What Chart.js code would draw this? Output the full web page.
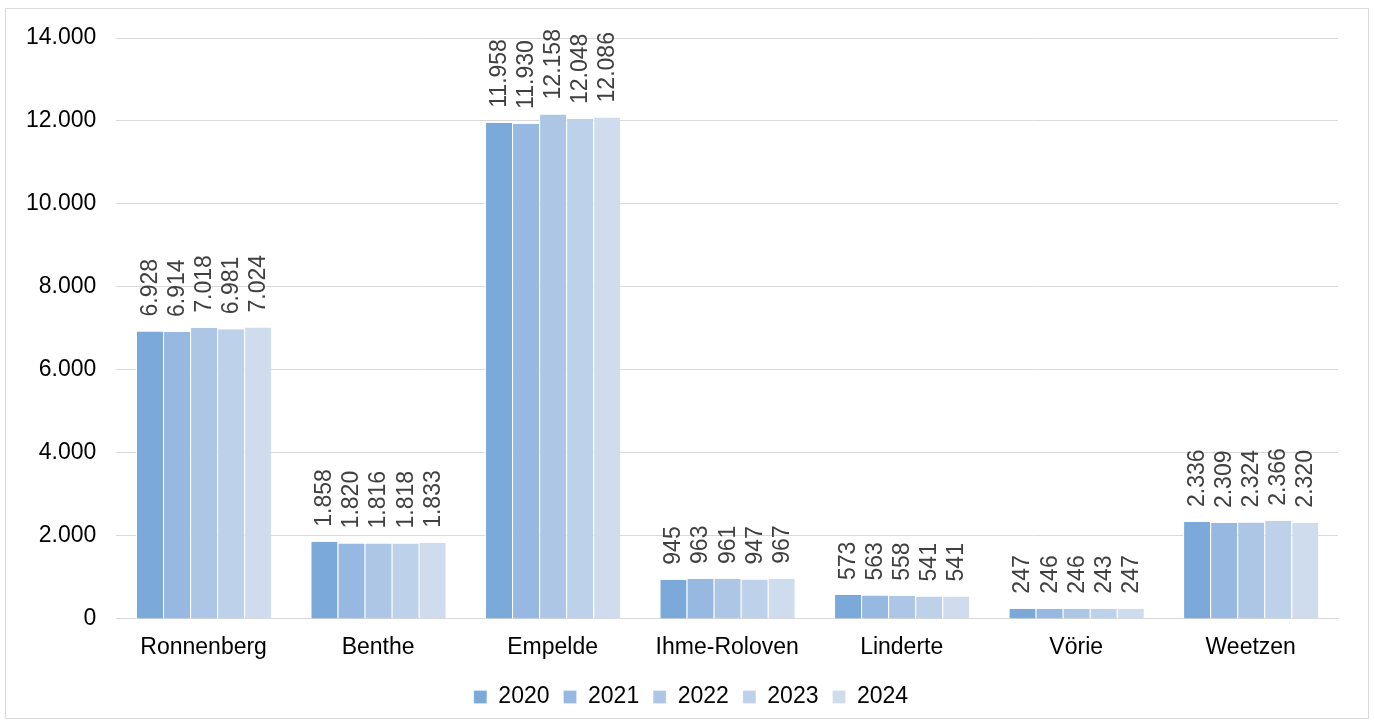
<!DOCTYPE html>
<html>
<head>
<meta charset="utf-8">
<script src="https://cdn.jsdelivr.net/npm/chart.js@4/dist/chart.umd.min.js"></script>
<style>
  body { margin: 0; background: #fff; }
  #frame {
    position: absolute; left: 5px; top: 8px; width: 1364px; height: 711px;
    border: 1px solid #d9d9d9; box-sizing: border-box;
  }
  canvas { display: block; position: absolute; left: 0; top: 0; }
</style>
</head>
<body>
<div id="frame"></div>
<canvas id="chart"></canvas>
<script>
const categories = ["Ronnenberg", "Benthe", "Empelde", "Ihme-Roloven", "Linderte", "Vörie", "Weetzen"];
const years = ["2020", "2021", "2022", "2023", "2024"];
const values2020 = [6928, 1858, 11958, 945, 573, 247, 2336];
const values2021 = [6914, 1820, 11930, 963, 563, 246, 2309];
const values2022 = [7018, 1816, 12158, 961, 558, 246, 2324];
const values2023 = [6981, 1818, 12048, 947, 541, 243, 2366];
const values2024 = [7024, 1833, 12086, 967, 541, 247, 2320];
const colors = ['#7ba9da', '#97b8e0', '#adc6e6', '#bed1ea', '#cfdcee'];

const series = [values2020, values2021, values2022, values2023, values2024];
const FONT = '"Liberation Sans", Arial, sans-serif';

function fmt(n) {
  return String(Math.round(n)).replace(/\B(?=(\d{3})+(?!\d))/g, '.');
}

// Beschriftung über den Balken, um 90° gedreht
const barLabels = {
  id: 'barLabels',
  afterDatasetsDraw(chart) {
    const ctx = chart.ctx;
    ctx.save();
    ctx.font = '23px ' + FONT;
    ctx.fillStyle = '#404040';
    ctx.textAlign = 'left';
    ctx.textBaseline = 'middle';
    chart.data.datasets.forEach((ds, i) => {
      chart.getDatasetMeta(i).data.forEach((bar, j) => {
        ctx.save();
        ctx.translate(bar.x, bar.y - 15);
        ctx.rotate(-Math.PI / 2);
        ctx.fillText(fmt(ds.data[j]), 0, 1);
        ctx.restore();
      });
    });
    ctx.restore();
  }
};

// Legende etwas nach rechts, mittig unter dem ganzen Bild
const legendShift = {
  id: 'legendShift',
  afterLayout(chart) {
    if (chart.legend) {
      chart.legend.left += 19;
      chart.legend.right += 19;
    }
  }
};

const canvas = document.getElementById('chart');
canvas.width = 1375;
canvas.height = 727;

new Chart(canvas, {
  type: 'bar',
  data: {
    labels: categories,
    datasets: years.map((y, i) => ({
      label: y,
      data: series[i],
      backgroundColor: colors[i],
      borderColor: '#ffffff',
      borderWidth: { left: 1, right: 0, top: 0, bottom: 0 },
      categoryPercentage: 0.775,
      barPercentage: 1.0
    }))
  },
  options: {
    responsive: false,
    animation: false,
    layout: { padding: { top: 38, right: 37, left: 6, bottom: 8.5 } },
    scales: {
      x: {
        grid: { display: false },
        border: { display: true, color: '#d9d9d9', width: 1 },
        ticks: {
          color: '#000',
          font: { family: FONT, size: 23 },
          padding: 7
        },
        afterFit: scale => { scale.height += 3; }
      },
      y: {
        min: 0,
        max: 14000,
        ticks: {
          stepSize: 2000,
          color: '#000',
          padding: 20,
          font: { family: FONT, size: 23 },
          callback: v => fmt(v)
        },
        grid: { color: '#d9d9d9', lineWidth: 1, drawTicks: false },
        border: { display: false }
      }
    },
    plugins: {
      legend: {
        position: 'bottom',
        labels: {
          boxWidth: 13,
          boxHeight: 13,
          padding: 14,
          color: '#000',
          font: { family: FONT, size: 23 }
        }
      },
      tooltip: { enabled: false }
    }
  },
  plugins: [barLabels, legendShift]
});
</script>
</body>
</html>
